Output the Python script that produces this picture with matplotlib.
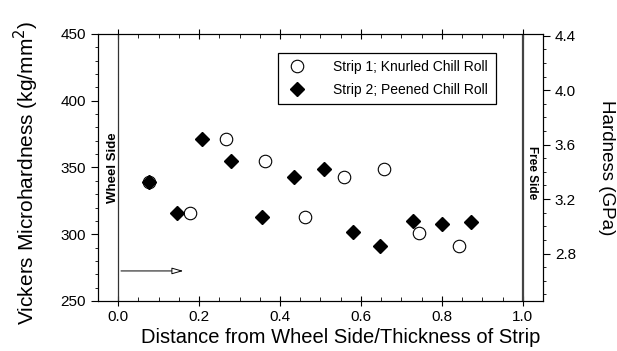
import numpy as np
import matplotlib
matplotlib.use('Agg')
import matplotlib.pyplot as plt
from matplotlib.ticker import MultipleLocator

# Strip 1 (knurled chill roll) - open circles
strip1_x = [0.075, 0.177, 0.266, 0.362, 0.461, 0.557, 0.658, 0.744, 0.842]
strip1_hv = [339, 316, 371, 355, 313, 343, 349, 301, 291]

# Strip 2 (peened chill roll) - filled diamonds
strip2_x = [0.075, 0.145, 0.208, 0.280, 0.356, 0.434, 0.508, 0.580, 0.648, 0.728, 0.801, 0.873]
strip2_hv = [339, 316, 371, 355, 313, 343, 349, 302, 291, 310, 308, 309]

hv_to_gpa = 0.00980665

plt.rcParams['font.family'] = ['Liberation Sans', 'DejaVu Sans']

fig = plt.figure(figsize=(6.17, 3.51), dpi=100)
ax = fig.add_axes([0.1588, 0.1425, 0.7212, 0.7607])

ax.plot(strip1_x, strip1_hv, 'o', markersize=9, markerfacecolor='white',
        markeredgecolor='black', markeredgewidth=0.8, linestyle='none',
        label='Strip 1; Knurled Chill Roll', zorder=3)
ax.plot(strip2_x, strip2_hv, 'D', markersize=7.5, color='black', linestyle='none',
        label='Strip 2; Peened Chill Roll', zorder=4)

ax.axvline(0.0, color='#333333', linewidth=0.9, zorder=2)
ax.axvline(1.0, color='#444444', linewidth=1.6, zorder=2)

ax.text(-0.012, 350, 'Wheel Side', rotation=90, ha='center', va='center',
        fontsize=9.5, fontweight='bold')
ax.text(1.022, 346, 'Free Side', rotation=270, ha='center', va='center',
        fontsize=8.5, fontweight='bold')

ax.annotate('', xy=(0.168, 272.5), xytext=(0.0, 272.5),
            arrowprops=dict(arrowstyle='-|>,head_length=0.7,head_width=0.2',
                            facecolor='white', edgecolor='black', linewidth=0.7))

ax.set_xlim(-0.05, 1.05)
ax.set_ylim(250, 450)
ax.xaxis.set_major_locator(MultipleLocator(0.2))
ax.xaxis.set_minor_locator(MultipleLocator(0.05))
ax.yaxis.set_major_locator(MultipleLocator(50))
ax.yaxis.set_minor_locator(MultipleLocator(10))
ax.xaxis.set_major_formatter(plt.FuncFormatter(lambda v, p: f'{v:.1f}'))

ax.tick_params(axis='x', which='major', direction='inout', length=7, width=0.8,
               top=True, labelsize=11, pad=3)
ax.tick_params(axis='x', which='minor', direction='in', length=3, width=0.6, top=True)
ax.tick_params(axis='y', which='major', direction='out', length=5, width=0.8,
               labelsize=11)
ax.tick_params(axis='y', which='minor', direction='out', length=2.5, width=0.6)

for sp in ax.spines.values():
    sp.set_linewidth(0.8)

ax.set_xlabel('Distance from Wheel Side/Thickness of Strip', fontsize=14.5)
ax.xaxis.set_label_coords(0.546, -0.10)
ax.set_ylabel('Vickers Microhardness (kg/mm$^2$)', fontsize=15)
ax.yaxis.set_label_coords(-0.128, 0.48)

ax2 = ax.twinx()
ax2.set_ylim(250 * hv_to_gpa, 450 * hv_to_gpa)
ax2.yaxis.set_major_locator(MultipleLocator(0.4))
ax2.yaxis.set_minor_locator(MultipleLocator(0.1))
ax2.tick_params(axis='y', which='major', direction='out', length=5, width=0.8,
                labelsize=11)
ax2.tick_params(axis='y', which='minor', direction='out', length=2.5, width=0.6)
ax2.set_ylabel('Hardness (GPa)', fontsize=13.5, rotation=270, labelpad=28)

leg = ax.legend(loc='upper left', bbox_to_anchor=(0.405, 0.93), fontsize=10,
                frameon=True, fancybox=False, edgecolor='black', framealpha=1,
                handletextpad=1.8, borderpad=0.55, labelspacing=0.6,
                handlelength=1.6, borderaxespad=0)
leg.get_frame().set_linewidth(0.9)

fig.savefig('out.png', dpi=100)
